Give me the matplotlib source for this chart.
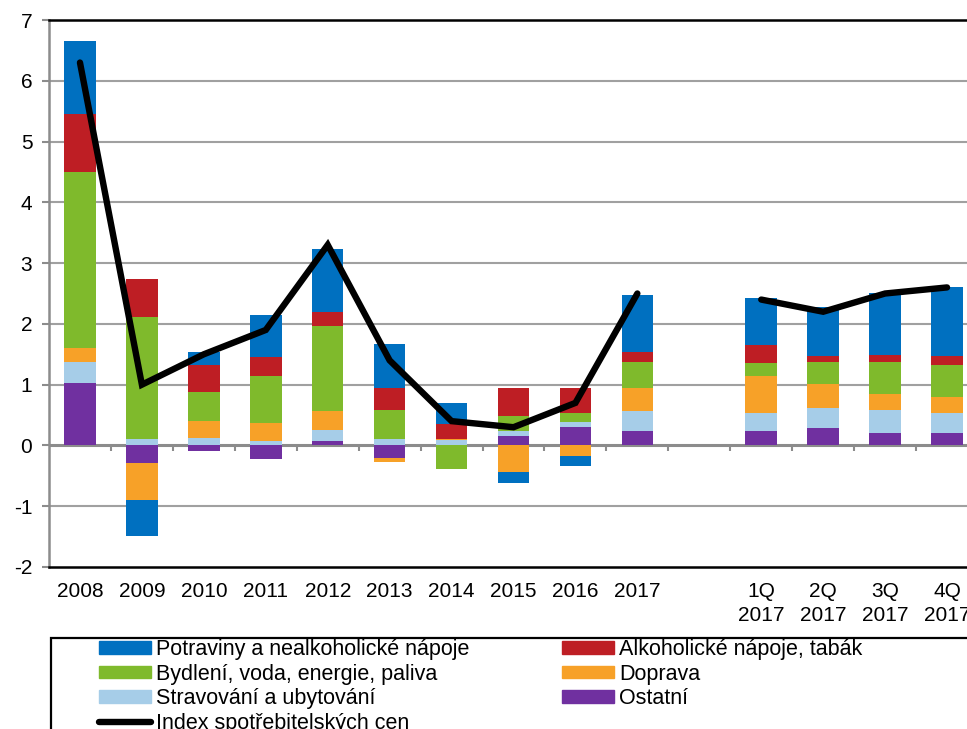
import numpy as np
import matplotlib
matplotlib.use("Agg")
from matplotlib import pyplot as plt
from matplotlib.patches import Patch, Rectangle
from matplotlib.lines import Line2D

plt.rcParams["font.family"] = ["Liberation Sans", "DejaVu Sans"]

# kategorie (prázdná pozice odděluje roky a čtvrtletí)
categories = ["2008", "2009", "2010", "2011", "2012", "2013", "2014", "2015",
              "2016", "2017", "", "1Q\n2017", "2Q\n2017", "3Q\n2017", "4Q\n2017"]

# příspěvky k meziroční inflaci (p.b.)
potraviny = [1.20, -0.59, 0.21, 0.69, 1.03, 0.72, 0.34, -0.17, -0.16, 0.93, 0, 0.76, 0.81, 1.02, 1.14]
alkohol = [0.95, 0.62, 0.44, 0.30, 0.24, 0.36, 0.25, 0.45, 0.41, 0.17, 0, 0.31, 0.09, 0.12, 0.14]
bydleni = [2.89, 2.01, 0.48, 0.78, 1.40, 0.49, -0.39, 0.26, 0.15, 0.42, 0, 0.21, 0.37, 0.53, 0.54]
doprava = [0.24, -0.61, 0.28, 0.30, 0.30, -0.07, 0.02, -0.44, -0.18, 0.38, 0, 0.60, 0.39, 0.25, 0.26]
stravovani = [0.35, 0.11, 0.12, 0.07, 0.19, 0.10, 0.09, 0.08, 0.09, 0.33, 0, 0.31, 0.34, 0.38, 0.33]
ostatni = [1.02, -0.29, -0.09, -0.23, 0.07, -0.21, 0.0, 0.15, 0.30, 0.24, 0, 0.23, 0.28, 0.21, 0.20]
cpi = [6.3, 1.0, 1.5, 1.9, 3.3, 1.4, 0.4, 0.3, 0.7, 2.5, np.nan, 2.4, 2.2, 2.5, 2.6]

# (popisek, hodnoty, barva) ve pořadí skládání od nuly
series = [
    ("Ostatní", ostatni, "#7030A0"),
    ("Stravování a ubytování", stravovani, "#A6CDE8"),
    ("Doprava", doprava, "#F7A128"),
    ("Bydlení, voda, energie, paliva", bydleni, "#7FBA2C"),
    ("Alkoholické nápoje, tabák", alkohol, "#BE1E24"),
    ("Potraviny a nealkoholické nápoje", potraviny, "#0070C0"),
]

fig = plt.figure(figsize=(9.67, 7.29), dpi=100)
ax = fig.add_axes([49 / 967, 162 / 729, 929 / 967, 547 / 729])

x = np.arange(len(categories))
pos_base = np.zeros(len(x))
neg_base = np.zeros(len(x))
for label, vals, color in series:
    v = np.array(vals, dtype=float)
    base = np.where(v >= 0, pos_base, neg_base)
    ax.bar(x, v, width=0.51, bottom=base, color=color, linewidth=0, zorder=3)
    pos_base += np.clip(v, 0, None)
    neg_base += np.clip(v, None, 0)

ax.plot(x, cpi, color="black", lw=4.6, solid_capstyle="round",
        solid_joinstyle="miter", zorder=4)

# osy a mřížka
ax.set_xlim(-0.5, len(x) - 0.5)
ax.set_ylim(-2, 7)
ax.set_yticks(range(-2, 8))
ax.set_yticklabels([str(t) for t in range(-2, 8)])
for t in [-1, 1, 2, 3, 4, 5, 6]:
    ax.axhline(t, color="#A0A0A0", lw=1.5, zorder=1)
ax.axhline(0, color="#8C8C8C", lw=2.2, zorder=2)
ax.vlines(x[:-1] + 0.5, -0.085, 0, color="#8C8C8C", lw=1.5, zorder=2)

ax.set_xticks(x)
ax.set_xticklabels(categories, fontsize=15, linespacing=1.3)
ax.tick_params(axis="x", length=0, pad=11)
ax.tick_params(axis="y", labelsize=15, length=5, width=1.5, color="#8C8C8C", pad=7)

ax.spines["right"].set_visible(False)
ax.spines["left"].set_color("#8C8C8C")
ax.spines["left"].set_linewidth(1.8)
ax.spines["top"].set_color("black")
ax.spines["top"].set_linewidth(1.8)
ax.spines["bottom"].set_color("black")
ax.spines["bottom"].set_linewidth(1.8)

# rámeček legendy (přesahuje okraj obrázku)
fig.patches.append(Rectangle((51 / 967, -0.1), 1.0, 0.1 + 1 - 638 / 729,
                             transform=fig.transFigure, facecolor="none",
                             edgecolor="black", lw=1.6, clip_on=False))

colors = {label: color for label, _, color in series}
cpi_handle = Line2D([], [], color="black", lw=4.6, solid_capstyle="round")
left_items = ["Potraviny a nealkoholické nápoje", "Bydlení, voda, energie, paliva",
              "Stravování a ubytování"]
right_items = ["Alkoholické nápoje, tabák", "Doprava", "Ostatní"]

leg_kw = dict(frameon=False, loc="upper left", fontsize=15.5, handlelength=2.42,
              handleheight=0.51, handletextpad=0.23, labelspacing=0.17,
              borderpad=0, borderaxespad=0)
fig.legend([Patch(color=colors[k]) for k in left_items] + [cpi_handle],
           left_items + ["Index spotřebitelských cen"],
           bbox_to_anchor=(99 / 967, 1 - 639 / 729), **leg_kw)
fig.legend([Patch(color=colors[k]) for k in right_items], right_items,
           bbox_to_anchor=(562 / 967, 1 - 639 / 729), **leg_kw)

fig.savefig("out.png", dpi=100)
